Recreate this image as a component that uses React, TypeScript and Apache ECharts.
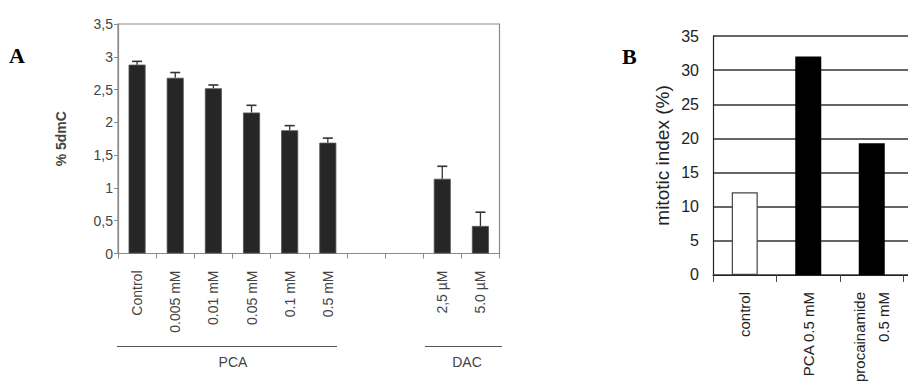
import React, { useEffect, useRef } from "react";
import * as echarts from "echarts";

// Panel A data
const aCategories = ["Control", "0.005 mM", "0.01 mM", "0.05 mM", "0.1 mM", "0.5 mM", "", "", "2,5 µM", "5.0 µM"];
const aValues: (number | null)[] = [2.88, 2.68, 2.52, 2.15, 1.88, 1.69, null, null, 1.14, 0.42];
const aErrors: (number | null)[] = [0.05, 0.08, 0.05, 0.11, 0.07, 0.07, null, null, 0.19, 0.21];
const aTicks = { min: 0, max: 3.5, interval: 0.5 };

// Panel B data
const bCategories = ["control", "PCA 0.5 mM", "procainamide\n0.5 mM", ""];
const bValues: (number | null)[] = [12.1, 32.0, 19.3, null];
const bTicks = { min: 0, max: 35, interval: 5 };

const FONT = "Liberation Sans, Arial, sans-serif";
const SERIF = "Liberation Serif, Times New Roman, serif";

export default function App() {
  const ref = useRef<HTMLDivElement>(null);
  useEffect(() => {
    if (!ref.current) return;
    const chart = echarts.init(ref.current, null, { renderer: "svg" });
    const errData = aValues
      .map((v, i) => (v == null || aErrors[i] == null ? null : [i, v, v + (aErrors[i] as number)]))
      .filter((d) => d !== null);
    chart.setOption({
      animation: false,
      backgroundColor: "#ffffff",
      grid: [
        { left: 118, top: 24, width: 381.5, height: 229.5, show: true, borderColor: "#8a8a8a", borderWidth: 1.2, backgroundColor: "transparent" },
        { left: 713, top: 36, width: 254, height: 243 },
      ],
      xAxis: [
        {
          type: "category",
          gridIndex: 0,
          data: aCategories,
          axisLine: { lineStyle: { color: "#8a8a8a", width: 1.2 } },
          axisTick: { show: true, length: 5, lineStyle: { color: "#8a8a8a" }, alignWithLabel: false },
          axisLabel: { rotate: 90, interval: 0, margin: 17, fontFamily: FONT, fontSize: 14, color: "#444" },
        },
        {
          type: "category",
          gridIndex: 1,
          data: bCategories,
          axisLine: { lineStyle: { color: "#222", width: 1.2 } },
          axisTick: { show: true, length: 7, lineStyle: { color: "#444" } },
          axisLabel: { rotate: 90, interval: 0, margin: 17, fontFamily: FONT, fontSize: 15, color: "#222", lineHeight: 24, padding: [0, 0, 12, 0] },
        },
      ],
      yAxis: [
        {
          type: "value",
          gridIndex: 0,
          min: aTicks.min,
          max: aTicks.max,
          interval: aTicks.interval,
          name: "% 5dmC",
          nameLocation: "middle",
          nameGap: 50,
          nameTextStyle: { fontFamily: FONT, fontSize: 14, fontWeight: "bold", color: "#444" },
          axisLine: { show: true, lineStyle: { color: "#8a8a8a", width: 1.2 } },
          axisTick: { show: true, length: 4, lineStyle: { color: "#8a8a8a" } },
          axisLabel: { margin: 5, fontFamily: FONT, fontSize: 14, color: "#444", formatter: (v: number) => String(v).replace(".", ",") },
          splitLine: { show: false },
        },
        {
          type: "value",
          gridIndex: 1,
          min: bTicks.min,
          max: bTicks.max,
          interval: bTicks.interval,
          name: "mitotic index (%)",
          nameLocation: "middle",
          nameGap: 41,
          nameTextStyle: { fontFamily: FONT, fontSize: 19, color: "#222" },
          axisLine: { show: true, lineStyle: { color: "#222", width: 1.2 } },
          axisTick: { show: false },
          axisLabel: { margin: 14, fontFamily: FONT, fontSize: 16, color: "#222" },
          splitLine: { show: true, lineStyle: { color: "#333", width: 1.5 } },
        },
      ],
      series: [
        {
          type: "bar",
          xAxisIndex: 0,
          yAxisIndex: 0,
          data: aValues,
          barWidth: 17,
          itemStyle: { color: "#262626", borderColor: "#555", borderWidth: 0.8 },
          z: 2,
        },
        {
          type: "custom",
          xAxisIndex: 0,
          yAxisIndex: 0,
          data: errData,
          z: 3,
          renderItem: (params: any, api: any) => {
            const x = api.value(0);
            const low = api.coord([x, api.value(1)]);
            const high = api.coord([x, api.value(2)]);
            const hw = 5;
            return {
              type: "group",
              children: [
                { type: "line", shape: { x1: low[0], y1: low[1], x2: high[0], y2: high[1] }, style: { stroke: "#333", lineWidth: 1.3 } },
                { type: "line", shape: { x1: high[0] - hw, y1: high[1], x2: high[0] + hw, y2: high[1] }, style: { stroke: "#333", lineWidth: 1.6 } },
              ],
            };
          },
        },
        {
          type: "bar",
          xAxisIndex: 1,
          yAxisIndex: 1,
          barWidth: 26,
          z: 2,
          data: bValues.map((v, i) =>
            i === 0
              ? { value: v, itemStyle: { color: "#ffffff", borderColor: "#444", borderWidth: 1.2 } }
              : { value: v, itemStyle: { color: "#000000" } }
          ),
        },
      ],
      graphic: [
        { type: "text", left: 9, top: 44, style: { text: "A", fontFamily: SERIF, fontSize: 22, fontWeight: "bold", fill: "#000" } },
        { type: "text", left: 622, top: 45, style: { text: "B", fontFamily: SERIF, fontSize: 22, fontWeight: "bold", fill: "#000" } },
        { type: "line", shape: { x1: 117, y1: 346.5, x2: 337, y2: 346.5 }, style: { stroke: "#555", lineWidth: 1.2 } },
        { type: "line", shape: { x1: 425, y1: 346.5, x2: 502, y2: 346.5 }, style: { stroke: "#555", lineWidth: 1.2 } },
        { type: "text", x: 233, y: 362, style: { text: "PCA", fontFamily: FONT, fontSize: 14, fill: "#444", textAlign: "center", textVerticalAlign: "middle" } },
        { type: "text", x: 467, y: 362, style: { text: "DAC", fontFamily: FONT, fontSize: 14, fill: "#444", textAlign: "center", textVerticalAlign: "middle" } },
      ],
    });
    return () => chart.dispose();
  }, []);
  return (
    <div style={{ position: "fixed", left: 0, top: 0, width: 908, height: 385, overflow: "hidden", background: "#fff" }}>
      <div ref={ref} style={{ width: 1000, height: 385 }} />
    </div>
  );
}
